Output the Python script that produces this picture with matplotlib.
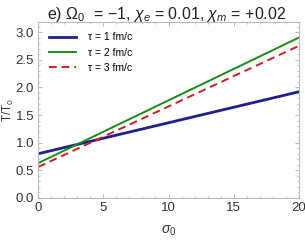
import numpy as np
import matplotlib.pyplot as plt
from matplotlib.ticker import MultipleLocator

plt.rcParams["font.family"] = ["Liberation Sans", "DejaVu Sans"]
plt.rcParams["mathtext.fontset"] = "custom"
plt.rcParams["mathtext.rm"] = "Liberation Sans"
plt.rcParams["mathtext.it"] = "Liberation Sans:italic"

# straight lines, endpoints (sigma0 = 0 and 20)
sigma = [0, 20]
t1 = [0.80, 1.92]
t2 = [0.63, 2.90]
t3 = [0.56, 2.75]
labels = ["τ = 1 fm/c", "τ = 2 fm/c", "τ = 3 fm/c"]

fig = plt.figure(figsize=(3.05, 2.4), dpi=100)
ax = fig.add_axes([0.125, 0.175, 0.855, 0.733])

ax.plot(sigma, t1, color="#1f1f8f", lw=2.0, label=labels[0])
ax.plot(sigma, t2, color="#1a8a1a", lw=1.4, label=labels[1])
ax.plot(sigma, t3, color="#cc2020", lw=1.4, ls=(0, (4, 2.5)), label=labels[2])

ax.set_xlim(0, 20)
ax.set_ylim(0, 3.18)
ax.xaxis.set_major_locator(MultipleLocator(5))
ax.xaxis.set_minor_locator(MultipleLocator(1))
ax.yaxis.set_major_locator(MultipleLocator(0.5))
ax.yaxis.set_minor_locator(MultipleLocator(0.1))
ax.tick_params(which="both", direction="in", top=True, right=True, color="#bbbbbb",
               labelsize=9.5, labelcolor="#333333", pad=3)
ax.tick_params(which="major", length=3)
ax.tick_params(which="minor", length=1.5)
for s in ax.spines.values():
    s.set_color("#bbbbbb")

ax.set_xlabel(r"$\sigma_0$", fontsize=10, color="#333333", labelpad=7)
ax.set_ylabel(r"T/T$_0$", fontsize=8.5, color="#333333")
ax.yaxis.set_label_coords(-0.085, 0.5)
fig.text(0.545, 0.922, r"e) $\Omega_0$  = −1, $\chi_e$ = 0.01, $\chi_m$ = +0.02",
         ha="center", fontsize=11.5, color="#222222")

ax.legend(loc="upper left", frameon=False, fontsize=7.5, handlelength=2.6,
          borderaxespad=0.6, labelspacing=0.5, handletextpad=1.2)

plt.savefig("out.png", dpi=100)
